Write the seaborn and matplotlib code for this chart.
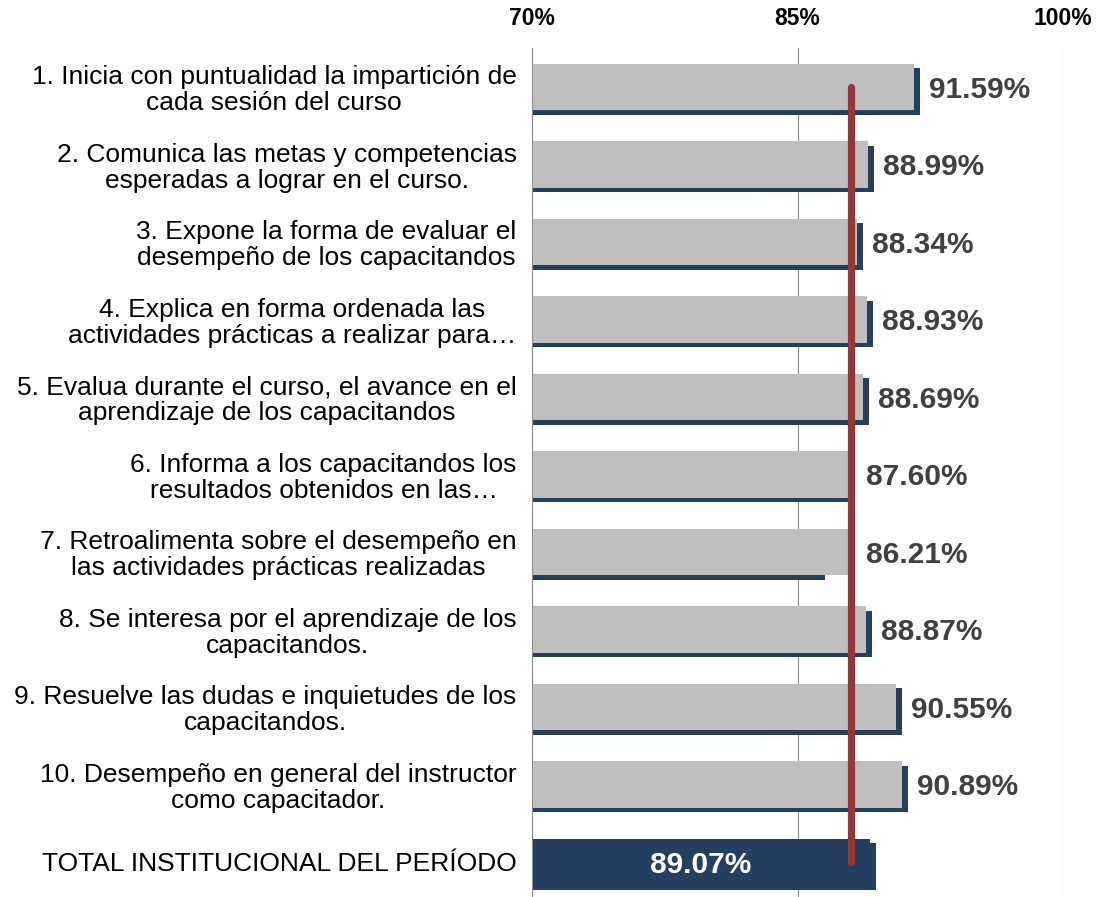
import matplotlib
matplotlib.use("Agg")
import matplotlib.pyplot as plt
import matplotlib.transforms as mtransforms
import pandas as pd
import seaborn as sns

# Datos
preguntas = [
    "1. Inicia con puntualidad la impartición de\ncada sesión del curso",
    "2. Comunica las metas y competencias\nesperadas a lograr en el curso.",
    "3. Expone la forma de evaluar el\ndesempeño de los capacitandos",
    "4. Explica en forma ordenada las\nactividades prácticas a realizar para…",
    "5. Evalua durante el curso, el avance en el\naprendizaje de los capacitandos",
    "6. Informa a los capacitandos los\nresultados obtenidos en las…",
    "7. Retroalimenta sobre el desempeño en\nlas actividades prácticas realizadas",
    "8. Se interesa por el aprendizaje de los\ncapacitandos.",
    "9. Resuelve las dudas e inquietudes de los\ncapacitandos.",
    "10. Desempeño en general del instructor\ncomo capacitador.",
    "TOTAL INSTITUCIONAL DEL PERÍODO",
]
valores = [91.59, 88.99, 88.34, 88.93, 88.69, 87.60, 86.21, 88.87, 90.55, 90.89, 89.07]
promedio = 88.0
x_ticks = [70, 85, 100]

GRIS = "#BFBFBF"
AZUL = "#243F60"
ROJO = "#953735"
TEXTO = "#404040"

df = pd.DataFrame({"pregunta": preguntas, "valor": valores})
# la barra gris llega hasta la linea roja cuando el valor queda debajo
df["gris"] = [max(v, promedio) for v in valores]
colores = [GRIS] * (len(df) - 1) + [AZUL]

sns.set_theme(style="white")
plt.rcParams["font.family"] = ["Liberation Sans", "DejaVu Sans"]

fig = plt.figure(figsize=(11.01, 8.97), dpi=100)
alto = 11 * 77.5
ax = fig.add_axes([532 / 1101, (897 - 48 - alto) / 897,
                   (1063 - 532) / 1101, alto / 897])

# sombra azul desplazada
sns.barplot(data=df, x="valor", y="pregunta", color=AZUL, width=0.6,
            saturation=1, errorbar=None, linewidth=0, ax=ax)
desplaza = mtransforms.ScaledTranslation(6 / 100, -4.5 / 100, fig.dpi_scale_trans)
for p in ax.patches:
    p.set_transform(ax.transData + desplaza)

# barra principal
sns.barplot(data=df, x="gris", y="pregunta", hue="pregunta", palette=colores,
            legend=False, width=0.6, saturation=1, errorbar=None, linewidth=0,
            ax=ax)

# linea de referencia
ax.plot([promedio, promedio], [0, len(df) - 1], color=ROJO, lw=5.2,
        solid_capstyle="round", zorder=5)

# etiquetas de valor
for i, (v, g) in enumerate(zip(df["valor"], df["gris"])):
    if i < len(df) - 1:
        ax.text(g + 0.85, i + 0.04, f"{v:.2f}%", ha="left", va="center",
                fontsize=21.5, fontweight="bold", color=TEXTO, zorder=6)
    else:
        ax.text((70 + v) / 2, i + 0.04, f"{v:.2f}%", ha="center", va="center",
                fontsize=21.5, fontweight="bold", color="white", zorder=6)

ax.set_xlim(70, 100)
ax.set_ylim(len(df) - 0.5, -0.5)
ax.set_xticks(x_ticks)
ax.set_xticklabels([f"{t}%" for t in x_ticks], fontweight="bold")
ax.xaxis.tick_top()
ax.tick_params(axis="x", length=0, pad=13, labelsize=16.5, labelcolor="black")
ax.tick_params(axis="y", direction="in", length=5, width=0.8, color="#8c8c8c",
               pad=11, labelsize=19, labelcolor="black", left=True)
for lab in ax.get_yticklabels():
    lab.set_multialignment("center")
    lab.set_linespacing(1.1)

ax.grid(axis="x", color="#8c8c8c", lw=0.8)
ax.set_axisbelow(True)
for s in ["top", "right", "bottom"]:
    ax.spines[s].set_visible(False)
ax.spines["left"].set_color("#8c8c8c")
ax.spines["left"].set_linewidth(0.8)
ax.set_xlabel("")
ax.set_ylabel("")

fig.savefig("out.png", dpi=100)
